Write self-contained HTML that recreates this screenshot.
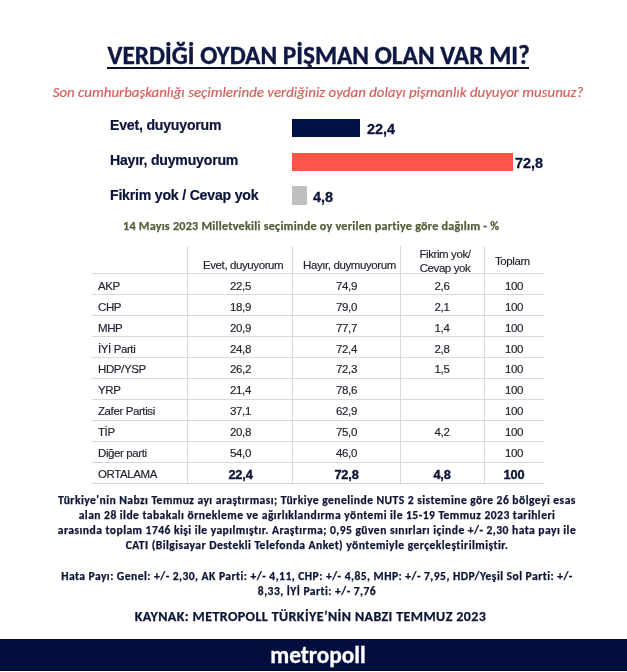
<!DOCTYPE html>
<html lang="tr">
<head>
<meta charset="utf-8">
<title>Verdiği oydan pişman olan var mı?</title>
<style>
html,body{margin:0;padding:0;background:#fff;}
body{width:627px;height:672px;position:relative;overflow:hidden;}
.a{position:absolute;white-space:nowrap;}
.cal{font-family:Carlito,"Liberation Sans",sans-serif;}
.ar{font-family:"Liberation Sans",Arial,sans-serif;}
#title{left:0;width:637.2px;text-align:center;top:41px;font-size:25.3px;line-height:30px;font-weight:bold;color:#0e1843;-webkit-text-stroke:0.4px #0e1843;}
#uline{position:absolute;left:107px;top:67px;width:422px;height:2px;background:#0a0f30;}
#sub{left:0;width:636px;text-align:center;top:83px;font-size:14.9px;line-height:18px;font-style:italic;color:#d2605c;-webkit-text-stroke:0.2px #d2605c;}
.bl{left:110px;font-size:14.1px;letter-spacing:-0.2px;line-height:16px;font-weight:bold;color:#0c1539;-webkit-text-stroke:0.2px #0c1539;}
.bar{position:absolute;left:292px;}
.val{font-size:14.4px;line-height:16px;font-weight:bold;color:#0c1539;-webkit-text-stroke:0.3px #0c1539;}
#green{left:123px;top:219px;font-size:12.2px;letter-spacing:0.22px;line-height:14px;font-weight:bold;color:#506039;-webkit-text-stroke:0.25px #506039;}
.hl{position:absolute;left:92px;width:452px;height:1px;background:#d9d9d9;}
.vl{position:absolute;top:246px;width:1px;height:238px;background:#d9d9d9;}
.t{font-size:11.5px;letter-spacing:-0.4px;line-height:13px;color:#20232f;-webkit-text-stroke:0.15px #20232f;}
.c1{left:188px;width:105px;text-align:center;}
.c2{left:293px;width:107px;text-align:center;}
.c3{left:400px;width:84px;text-align:center;}
.c4{left:484px;width:60px;text-align:center;}
.c0{left:98px;}
.b{font-weight:bold;font-size:12.8px;letter-spacing:-0.2px;color:#0c1539;-webkit-text-stroke:0.35px #0c1539;}
.p{left:0;width:634px;text-align:center;font-size:11.6px;letter-spacing:0.45px;line-height:14.4px;font-weight:bold;color:#0d1536;-webkit-text-stroke:0.25px #0d1536;}
#band{position:absolute;left:0;top:639px;width:627px;height:31.5px;background:#020e3e;box-shadow:inset 0 1px 0 #00072e,inset 0 -1px 0 #00072e;}
#logo{left:0;width:636px;text-align:center;top:641.8px;font-size:23.3px;letter-spacing:0px;line-height:26px;font-weight:bold;color:#fff;-webkit-text-stroke:0.3px #fff;}
</style>
</head>
<body>
<div class="a cal" id="title">VERDİĞİ OYDAN PİŞMAN OLAN VAR MI?</div>
<div id="uline"></div>
<div class="a cal" id="sub">Son cumhurbaşkanlığı seçimlerinde verdiğiniz oydan dolayı pişmanlık duyuyor musunuz?</div>
<div class="a ar bl" style="top:116.9px">Evet, duyuyorum</div>
<div class="a ar bl" style="top:151.9px">Hayır, duymuyorum</div>
<div class="a ar bl" style="top:186.9px">Fikrim yok / Cevap yok</div>
<div class="bar" style="top:119px;width:68px;height:18px;background:#020f42"></div>
<div class="bar" style="top:153px;width:221px;height:18px;background:#fd5549"></div>
<div class="bar" style="top:186px;width:15px;height:19px;background:#bfbfbf"></div>
<div class="a ar val" style="left:367px;top:120.7px">22,4</div>
<div class="a ar val" style="left:515px;top:154.5px">72,8</div>
<div class="a ar val" style="left:313px;top:189px">4,8</div>
<div class="a cal" id="green">14 Mayıs 2023 Milletvekili seçiminde oy verilen partiye göre dağılım - %</div>
<div class="hl" style="top:273px"></div>
<div class="hl" style="top:294px"></div>
<div class="hl" style="top:315px"></div>
<div class="hl" style="top:336px"></div>
<div class="hl" style="top:357px"></div>
<div class="hl" style="top:378px"></div>
<div class="hl" style="top:399px"></div>
<div class="hl" style="top:420px"></div>
<div class="hl" style="top:441px"></div>
<div class="hl" style="top:462px"></div>
<div class="hl" style="top:483px"></div>
<div class="vl" style="left:187px"></div>
<div class="vl" style="left:292px"></div>
<div class="vl" style="left:400px"></div>
<div class="vl" style="left:484px"></div>
<div class="a ar t" style="left:203px;top:258.8px">Evet, duyuyorum</div>
<div class="a ar t" style="left:303px;top:258.8px">Hayır, duymuyorum</div>
<div class="a ar t c3" style="left:403px;top:246.8px;line-height:14px;white-space:normal">Fikrim yok/<br>Cevap yok</div>
<div class="a ar t" style="left:495px;top:254.7px">Toplam</div>
<div class="a ar t c0" style="top:279.8px">AKP</div>
<div class="a ar t c1" style="top:279.8px">22,5</div>
<div class="a ar t c2" style="top:279.8px">74,9</div>
<div class="a ar t c3" style="top:279.8px">2,6</div>
<div class="a ar t c4" style="top:279.8px">100</div>
<div class="a ar t c0" style="top:300.72px">CHP</div>
<div class="a ar t c1" style="top:300.72px">18,9</div>
<div class="a ar t c2" style="top:300.72px">79,0</div>
<div class="a ar t c3" style="top:300.72px">2,1</div>
<div class="a ar t c4" style="top:300.72px">100</div>
<div class="a ar t c0" style="top:321.64px">MHP</div>
<div class="a ar t c1" style="top:321.64px">20,9</div>
<div class="a ar t c2" style="top:321.64px">77,7</div>
<div class="a ar t c3" style="top:321.64px">1,4</div>
<div class="a ar t c4" style="top:321.64px">100</div>
<div class="a ar t c0" style="top:342.56px">İYİ Parti</div>
<div class="a ar t c1" style="top:342.56px">24,8</div>
<div class="a ar t c2" style="top:342.56px">72,4</div>
<div class="a ar t c3" style="top:342.56px">2,8</div>
<div class="a ar t c4" style="top:342.56px">100</div>
<div class="a ar t c0" style="top:363.48px">HDP/YSP</div>
<div class="a ar t c1" style="top:363.48px">26,2</div>
<div class="a ar t c2" style="top:363.48px">72,3</div>
<div class="a ar t c3" style="top:363.48px">1,5</div>
<div class="a ar t c4" style="top:363.48px">100</div>
<div class="a ar t c0" style="top:384.4px">YRP</div>
<div class="a ar t c1" style="top:384.4px">21,4</div>
<div class="a ar t c2" style="top:384.4px">78,6</div>
<div class="a ar t c4" style="top:384.4px">100</div>
<div class="a ar t c0" style="top:405.32px">Zafer Partisi</div>
<div class="a ar t c1" style="top:405.32px">37,1</div>
<div class="a ar t c2" style="top:405.32px">62,9</div>
<div class="a ar t c4" style="top:405.32px">100</div>
<div class="a ar t c0" style="top:426.24px">TİP</div>
<div class="a ar t c1" style="top:426.24px">20,8</div>
<div class="a ar t c2" style="top:426.24px">75,0</div>
<div class="a ar t c3" style="top:426.24px">4,2</div>
<div class="a ar t c4" style="top:426.24px">100</div>
<div class="a ar t c0" style="top:447.16px">Diğer parti</div>
<div class="a ar t c1" style="top:447.16px">54,0</div>
<div class="a ar t c2" style="top:447.16px">46,0</div>
<div class="a ar t c4" style="top:447.16px">100</div>
<div class="a ar t c0" style="top:468.08px">ORTALAMA</div>
<div class="a ar t b c1" style="top:468.48px">22,4</div>
<div class="a ar t b c2" style="top:468.48px">72,8</div>
<div class="a ar t b c3" style="top:468.48px">4,8</div>
<div class="a ar t b c4" style="top:468.48px">100</div>
<div class="a cal p" style="top:493px">Türkiye'nin Nabzı Temmuz ayı araştırması; Türkiye genelinde NUTS 2 sistemine göre 26 bölgeyi esas</div>
<div class="a cal p" style="top:507.93px">alan 28 ilde tabakalı örnekleme ve ağırlıklandırma yöntemi ile 15-19 Temmuz 2023 tarihleri</div>
<div class="a cal p" style="top:522.86px">arasında toplam 1746 kişi ile yapılmıştır. Araştırma; 0,95 güven sınırları içinde +/- 2,30 hata payı ile</div>
<div class="a cal p" style="top:537.8px">CATI (Bilgisayar Destekli Telefonda Anket) yöntemiyle gerçekleştirilmiştir.</div>
<div class="a cal p" style="top:569px">Hata Payı: Genel: +/- 2,30, AK Parti: +/- 4,11, CHP: +/- 4,85, MHP: +/- 7,95, HDP/Yeşil Sol Parti: +/-</div>
<div class="a cal p" style="top:583.8px">8,33, İYİ Parti: +/- 7,76</div>
<div class="a cal p" style="top:608.3px;font-size:14px;letter-spacing:0.4px;line-height:17px;width:621px">KAYNAK: METROPOLL TÜRKİYE’NİN NABZI TEMMUZ 2023</div>
<div id="band"></div>
<div class="a cal" id="logo">metropoll</div>
</body>
</html>
